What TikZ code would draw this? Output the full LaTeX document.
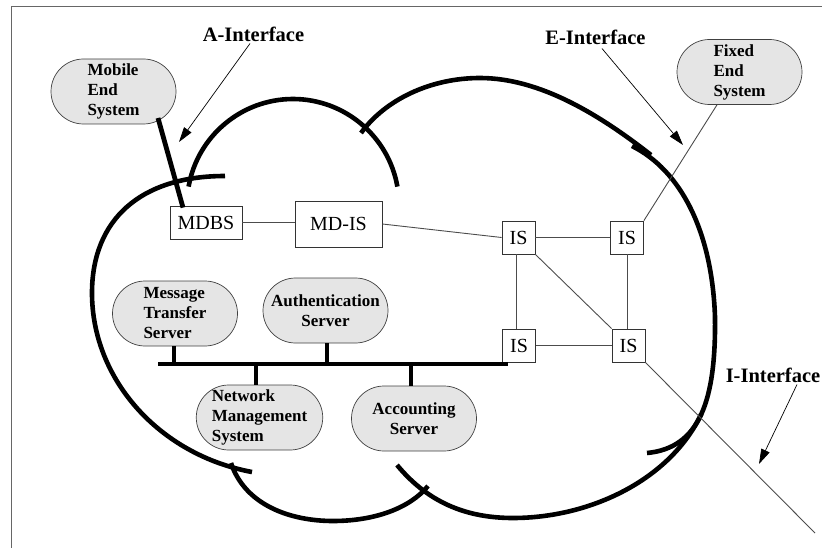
\documentclass[tikz,border=0pt]{standalone}
\usepackage{fontspec}
\setmainfont{Liberation Serif}
\usetikzlibrary{arrows.meta,shapes.misc}
\begin{document}
\begin{tikzpicture}[x=1pt,y=-1pt,
  cloudline/.style={line width=4.6pt},
  busline/.style={line width=4.8pt},
  thinline/.style={line width=0.9pt, draw=black!70},
  iface/.style={line width=0.7pt,-{Triangle[length=15pt,width=9pt]}},
  lbl/.style={inner sep=2pt, font=\fontsize{20.5}{24}\selectfont\bfseries},
  server/.style={draw=black!75, line width=0.7pt, fill=black!10, rounded rectangle,
    minimum width=125pt, minimum height=65pt, inner sep=0pt,
    font=\fontsize{17}{20}\selectfont\bfseries},
  isbox/.style={draw=black!80, line width=0.8pt, fill=white, inner sep=0pt,
    font=\fontsize{20}{24}\selectfont},
]
\useasboundingbox (0,0) rectangle (822,548);
% frame
\draw[black!60, line width=0.9pt] (11,548) -- (11,6) -- (822,6);

% cloud
\draw[cloudline] (225,176) .. controls (140,176) and (92,220) .. (92,293)
  .. controls (92,380) and (160,455) .. (252,472);
\draw[cloudline] (188.6,186.6) .. controls (197.5,136) and (241.6,99) .. (293,99)
  .. controls (344.4,99) and (388.5,136) .. (397.4,186.6);
\draw[cloudline] (361,133) .. controls (385,100) and (430,78) .. (480,78)
  .. controls (540,78) and (600,115) .. (651,155);
\draw[cloudline] (632,146) .. controls (680,170) and (712,230) .. (715,317)
  .. controls (716,400) and (700,448) .. (647,453);
\draw[cloudline] (397,465) .. controls (430,505) and (470,518) .. (513,518)
  .. controls (590,518) and (670,480) .. (701.3,414);
\draw[cloudline] (231,463) .. controls (245,505) and (290,521) .. (333,521)
  .. controls (375,521) and (410,508) .. (428,486);

% server nodes
\node[server, align=left] (mes) at (113.5,91.5) {Mobile\\End\\System};
\node[server, align=left] (fes) at (739.5,72) {Fixed\\End\\System};
\node[server, align=left] (mts) at (175,313.5) {Message\\Transfer\\Server};
\node[server, align=center] (auth) at (325.5,310.5) {Authentication\\Server};
\node[server, align=left] (nms) at (259.5,417.5) {Network\\Management\\System};
\node[server, align=center] (acc) at (414,418.5) {Accounting\\Server};

% boxes
\node[isbox, minimum width=72pt, minimum height=33pt] (mdbs) at (206,222.5) {MDBS};
\node[isbox, minimum width=87pt, minimum height=46pt] (mdis) at (338.5,224) {MD-IS};
\node[isbox, minimum size=33pt] (is1) at (518.5,237.5) {IS};
\node[isbox, minimum size=33pt] (is2) at (627,237.5) {IS};
\node[isbox, minimum size=33pt] (is3) at (519,345.5) {IS};
\node[isbox, minimum size=33pt] (is4) at (628.5,345.5) {IS};

% interface labels
\node[lbl] (ai) at (253.5,34) {A-Interface};
\node[lbl] (ei) at (595.5,37) {E-Interface};
\node[lbl] (ii) at (773,375) {I-Interface};

\coordinate (aie) at (179,142);
\coordinate (eie) at (683,145);
\coordinate (iie) at (759,464);
\draw[iface] ([xshift=-3.5pt]ai.south) -- (aie);
\draw[iface] ([xshift=6.5pt,yshift=-2pt]ei.south) -- (eie);
\draw[iface] ([xshift=24pt]ii.south) -- (iie);

% mobile stub
\coordinate (mesx) at (158,118);
\draw[busline] (mesx) -- ([xshift=-23pt,yshift=-2pt]mdbs.north);

% thin connectors
\draw[thinline] (mdbs.east) -- (mdbs.east -| mdis.west);
\draw[thinline] (mdis.east) -- (is1.west);
\draw[thinline] (is1.east) -- (is2.west);
\draw[thinline] ([xshift=-2.5pt]is1.south) -- ([xshift=-2.5pt]is1.south |- is3.north);
\draw[thinline] (is2.south) -- (is2.south |- is4.north);
\draw[thinline] (is3.east) -- (is4.west);
\draw[thinline] (is1.south east) -- (is4.north west);
\draw[thinline] (is2.north east) -- ([xshift=-22.5pt]fes.south);
\coordinate (far) at (815,533);
\draw[thinline] (is4.south east) -- (far);

% bus
\coordinate (busL) at (158,364);
\coordinate (busR) at (508,364);
\draw[busline] (busL) -- (busR);
\draw[busline] ([xshift=-1pt]mts.south) -- ([xshift=-1pt]mts.south |- busL);
\draw[busline] ([xshift=1.5pt]auth.south) -- ([xshift=1.5pt]auth.south |- busL);
\draw[busline] ([xshift=-3.5pt]nms.north) -- ([xshift=-3.5pt]nms.north |- busL);
\draw[busline] ([xshift=-3pt]acc.north) -- ([xshift=-3pt]acc.north |- busL);
\end{tikzpicture}
\end{document}
